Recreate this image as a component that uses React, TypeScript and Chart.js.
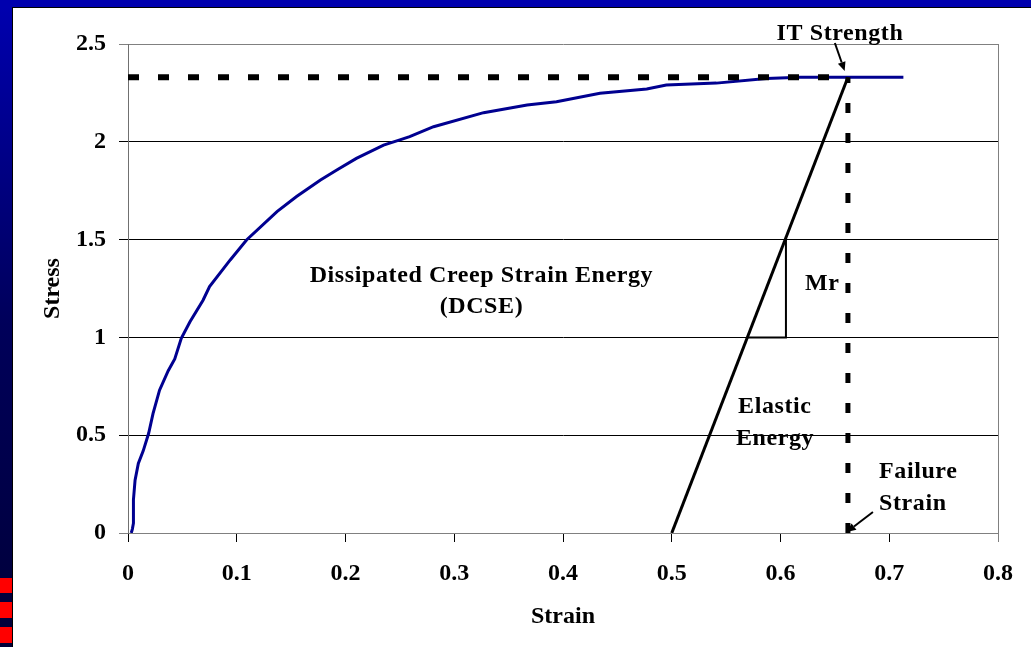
import React, { useEffect, useRef } from 'react';
import { Chart, registerables } from 'chart.js';

Chart.register(...registerables);

// ---- data ----
const creepStrain = [0.003, 0.004, 0.005, 0.005, 0.0065, 0.0095, 0.014, 0.019, 0.023, 0.029, 0.037, 0.043, 0.049, 0.057, 0.069, 0.075, 0.094, 0.109, 0.137, 0.155, 0.177, 0.192, 0.21, 0.235, 0.25, 0.259, 0.281, 0.327, 0.367, 0.394, 0.434, 0.477, 0.495, 0.541, 0.587, 0.618, 0.64, 0.662, 0.713];
const creepStress = [0, 0.02, 0.05, 0.17, 0.27, 0.356, 0.42, 0.51, 0.61, 0.73, 0.83, 0.89, 0.995, 1.08, 1.19, 1.26, 1.396, 1.498, 1.643, 1.72, 1.805, 1.856, 1.915, 1.983, 2.01, 2.026, 2.077, 2.149, 2.188, 2.205, 2.248, 2.27, 2.29, 2.3, 2.324, 2.33, 2.33, 2.33, 2.33];

const elasticStrain = [0.5, 0.662];
const elasticStress = [0, 2.33];

const mrStrain = [0.5695, 0.605, 0.605];
const mrStress = [1.0, 1.0, 1.5];

const strengthLineStrain = [0, 0.662];
const strengthLineStress = [2.33, 2.33];

const failureLineStrain = [0.662, 0.662];
const failureLineStress = [0, 2.33];

const xTickLabels = ['0', '0.1', '0.2', '0.3', '0.4', '0.5', '0.6', '0.7', '0.8'];
const yTickLabels = ['0', '0.5', '1', '1.5', '2', '2.5'];

const xTitle = 'Strain';
const yTitle = 'Stress';

const toPoints = (xs: number[], ys: number[]) => xs.map((x, i) => ({ x, y: ys[i] }));

const FONT_FAMILY = '"Liberation Serif", "Times New Roman", serif';
const font = { family: FONT_FAMILY, size: 24, weight: 'bold' as const };

type Label = { text: string; x: number; y: number; align: CanvasTextAlign };
const labels: Label[] = [
  { text: 'IT Strength', x: 0.6547, y: 2.52, align: 'center' },
  { text: 'Dissipated Creep Strain Energy', x: 0.325, y: 1.283, align: 'center' },
  { text: '(DCSE)', x: 0.325, y: 1.125, align: 'center' },
  { text: 'Mr', x: 0.6225, y: 1.242, align: 'left' },
  { text: 'Elastic', x: 0.561, y: 0.6135, align: 'left' },
  { text: 'Energy', x: 0.559, y: 0.45, align: 'left' },
  { text: 'Failure', x: 0.6906, y: 0.281, align: 'left' },
  { text: 'Strain', x: 0.6906, y: 0.1176, align: 'left' },
];
const arrows = [
  { from: [0.65, 2.505], to: [0.659, 2.362] },
  { from: [0.685, 0.107], to: [0.661, 0.005] },
];

const framePlugin = {
  id: 'frame',
  beforeDraw(chart: any) {
    const { ctx, width, height } = chart;
    ctx.save();
    ctx.fillStyle = '#ffffff';
    ctx.fillRect(0, 0, width, height);
    const g = ctx.createLinearGradient(0, 0, 0, height);
    g.addColorStop(0, '#0000B0');
    g.addColorStop(0.5, '#00005A');
    g.addColorStop(1, '#000038');
    ctx.fillStyle = g;
    ctx.fillRect(0, 0, 12, height);
    ctx.fillStyle = '#0000AE';
    ctx.fillRect(0, 0, width, 7);
    ctx.fillStyle = '#FF0000';
    ctx.fillRect(0, 578, 12, 15);
    ctx.fillRect(0, 602, 12, 16);
    ctx.fillRect(0, 627, 12, 16);
    ctx.fillStyle = '#000000';
    ctx.fillRect(12, 7, width - 12, 1);
    ctx.fillRect(12, 7, 1, height - 7);
    ctx.restore();
  },
  beforeDatasetsDraw(chart: any) {
    const { ctx, chartArea } = chart;
    ctx.save();
    ctx.strokeStyle = '#808080';
    ctx.lineWidth = 1;
    ctx.beginPath();
    ctx.moveTo(Math.round(chartArea.right) + 0.5, chartArea.top);
    ctx.lineTo(Math.round(chartArea.right) + 0.5, chartArea.bottom + 9);
    ctx.stroke();
    ctx.restore();
  },
  afterDraw(chart: any) {
    const { ctx } = chart;
    const xs = chart.scales.x;
    const ys = chart.scales.y;
    ctx.save();
    ctx.fillStyle = '#000';
    ctx.font = `bold 24px ${FONT_FAMILY}`;
    ctx.textBaseline = 'alphabetic';
    try { (ctx as any).letterSpacing = '0.6px'; } catch (e) {}
    for (const l of labels) {
      ctx.textAlign = l.align;
      ctx.fillText(l.text, xs.getPixelForValue(l.x), ys.getPixelForValue(l.y));
    }
    ctx.strokeStyle = '#000';
    ctx.lineWidth = 2;
    for (const a of arrows) {
      const x1 = xs.getPixelForValue(a.from[0]);
      const y1 = ys.getPixelForValue(a.from[1]);
      const x2 = xs.getPixelForValue(a.to[0]);
      const y2 = ys.getPixelForValue(a.to[1]);
      const ang = Math.atan2(y2 - y1, x2 - x1);
      const hl = 9, hw = 4;
      const bx = x2 - hl * Math.cos(ang);
      const by = y2 - hl * Math.sin(ang);
      ctx.beginPath();
      ctx.moveTo(x1, y1);
      ctx.lineTo(bx, by);
      ctx.stroke();
      ctx.beginPath();
      ctx.moveTo(x2, y2);
      ctx.lineTo(bx + hw * Math.sin(ang), by - hw * Math.cos(ang));
      ctx.lineTo(bx - hw * Math.sin(ang), by + hw * Math.cos(ang));
      ctx.closePath();
      ctx.fill();
    }
    ctx.restore();
  },
};

export default function App() {
  const ref = useRef<HTMLCanvasElement>(null);
  useEffect(() => {
    if (!ref.current) return;
    const lineDs = (data: any, color: string, width: number, order: number, dash: number[] = []) => ({
      data,
      showLine: true,
      borderColor: color,
      backgroundColor: color,
      borderWidth: width,
      borderDash: dash,
      borderCapStyle: 'butt',
      pointRadius: 0,
      pointHoverRadius: 0,
      fill: false,
      tension: 0,
      order,
    });
    const chart = new Chart(ref.current, {
      type: 'scatter',
      data: {
        datasets: [
          lineDs(toPoints(elasticStrain, elasticStress), '#000000', 3, 0),
          lineDs(toPoints(mrStrain, mrStress), '#000000', 2, 1),
          lineDs(toPoints(strengthLineStrain, strengthLineStress), '#000000', 6, 2, [11, 19]),
          lineDs(toPoints(failureLineStrain, failureLineStress), '#000000', 5, 2, [10, 20]),
          lineDs(toPoints(creepStrain, creepStress), '#000090', 3, 3),
        ] as any,
      },
      options: {
        responsive: false,
        animation: false,
        devicePixelRatio: 1,
        layout: { padding: { left: 0, top: 44, right: 33, bottom: 0 } },
        plugins: { legend: { display: false }, tooltip: { enabled: false } },
        events: [],
        scales: {
          x: {
            type: 'linear',
            position: 'bottom',
            min: 0,
            max: 0.8,
            afterFit: (s: any) => { s.height = 114; },
            ticks: {
              stepSize: 0.1,
              autoSkip: false,
              maxRotation: 0,
              padding: 17,
              color: '#000',
              font,
              callback: (_v: any, i: number) => xTickLabels[i],
            },
            grid: { drawOnChartArea: false, drawTicks: true, tickLength: 9, color: '#000', lineWidth: 1 },
            border: { color: '#808080', width: 1 },
            title: { display: true, text: xTitle, color: '#000', font, padding: { top: 0, bottom: 16 } },
          },
          y: {
            type: 'linear',
            min: 0,
            max: 2.5,
            afterFit: (s: any) => { s.width = 128; },
            ticks: {
              stepSize: 0.5,
              padding: 13,
              color: '#000',
              font,
              callback: (_v: any, i: number) => yTickLabels[i],
            },
            grid: {
              drawTicks: true,
              tickLength: 9,
              lineWidth: 1,
              color: (c: any) => (c.tick && (c.tick.value === 0 || c.tick.value === 2.5) ? '#808080' : '#000000'),
            },
            border: { color: '#707070', width: 1 },
            title: { display: true, text: yTitle, color: '#000', font, padding: { top: 38, bottom: 0 } },
          },
        },
      } as any,
      plugins: [framePlugin],
    });
    return () => chart.destroy();
  }, []);
  return (
    <div style={{ position: 'absolute', left: 0, top: 0, width: 1031, height: 647, overflow: 'hidden' }}>
      <canvas ref={ref} width={1031} height={647} style={{ display: 'block', width: 1031, height: 647 }} />
    </div>
  );
}
